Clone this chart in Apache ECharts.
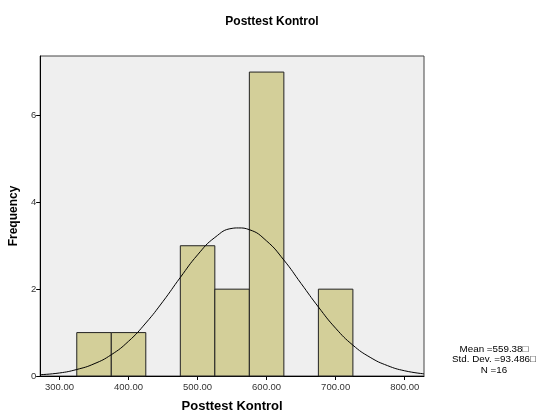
<!DOCTYPE html>
<html>
<head>
<meta charset="utf-8">
<script src="https://cdn.jsdelivr.net/npm/echarts@6/dist/echarts.min.js"></script>
<style>
  html, body { margin: 0; padding: 0; background: #fff; }
  #main { width: 539px; height: 418px; }
</style>
</head>
<body>
<div id="main"></div>
<script>
// histogram bins (Posttest Kontrol)
var binStart = [325, 375, 475, 525, 575, 675];
var binEnd = [375, 425, 525, 575, 625, 725];
var counts = [1, 1, 3, 2, 7, 2];

// fitted normal curve
var curveX = [272, 300, 325, 350, 375, 400, 425, 450, 475, 500, 525, 550, 559, 575, 600, 625, 650, 675, 700, 725, 750, 775, 800, 828];
var curveY = [0.03, 0.07, 0.15, 0.28, 0.49, 0.80, 1.22, 1.72, 2.27, 2.79, 3.19, 3.40, 3.41, 3.37, 3.11, 2.67, 2.13, 1.59, 1.10, 0.71, 0.43, 0.24, 0.12, 0.05];

var xTicks = [300, 400, 500, 600, 700, 800];
var yTicks = [0, 2, 4, 6];
var statLines = ['Mean =559.38\u25a1', 'Std. Dev. =93.486\u25a1', 'N =16'];

var bars = binStart.map(function (s, i) { return [s, binEnd[i], counts[i]]; });
var curve = curveX.map(function (x, i) { return [x, curveY[i]]; });

var chart = echarts.init(document.getElementById('main'));
var font = '"Liberation Sans", Arial, sans-serif';

var option = {
  animation: false,
  textStyle: { fontFamily: font },
  title: {
    text: 'Posttest Kontrol',
    left: 267,
    textAlign: 'center',
    top: 11,
    textStyle: { fontSize: 12, fontWeight: 'bold', color: '#000', fontFamily: font }
  },
  grid: {
    left: 37, top: 56, right: 115, bottom: 38,
    show: true,
    backgroundColor: '#efefef',
    borderColor: '#444',
    borderWidth: 1
  },
  xAxis: {
    type: 'value',
    min: 272,
    max: 828,
    name: 'Posttest Kontrol',
    nameLocation: 'middle',
    nameGap: 24,
    nameTextStyle: { fontSize: 13, fontWeight: 'bold', color: '#000' },
    axisLine: { lineStyle: { color: '#000' } },
    axisTick: { show: true, length: 4, customValues: xTicks, lineStyle: { color: '#000' } },
    axisLabel: {
      customValues: xTicks,
      fontSize: 9.5,
      color: '#333',
      margin: 6,
      formatter: function (v) { return v.toFixed(2); }
    },
    splitLine: { show: false }
  },
  yAxis: {
    type: 'value',
    min: 0,
    max: 7.37,
    name: 'Frequency',
    nameLocation: 'middle',
    nameGap: 14,
    nameTextStyle: { fontSize: 12, fontWeight: 'bold', color: '#000' },
    axisLine: { show: true, lineStyle: { color: '#000' } },
    axisTick: { show: true, length: 4, customValues: yTicks, lineStyle: { color: '#000' } },
    axisLabel: { customValues: yTicks, fontSize: 9.5, color: '#333', margin: 4 },
    splitLine: { show: false }
  },
  graphic: statLines.map(function (t, i) {
    return {
      type: 'text',
      x: 494,
      y: 344 + i * 10.5,
      style: { text: t, textAlign: 'center', fontSize: 9.8, fill: '#000', fontFamily: font }
    };
  }),
  series: [
    {
      type: 'custom',
      data: bars,
      renderItem: function (params, api) {
        var p0 = api.coord([api.value(0), 0]);
        var p1 = api.coord([api.value(1), api.value(2)]);
        return {
          type: 'rect',
          shape: { x: p0[0], y: p1[1], width: p1[0] - p0[0], height: p0[1] - p1[1] },
          style: { fill: '#d3cf99', stroke: '#222', lineWidth: 1 }
        };
      },
      z: 2
    },
    {
      type: 'line',
      data: curve,
      smooth: true,
      showSymbol: false,
      lineStyle: { color: '#000', width: 1 },
      z: 3
    }
  ]
};

chart.setOption(option);
</script>
</body>
</html>
